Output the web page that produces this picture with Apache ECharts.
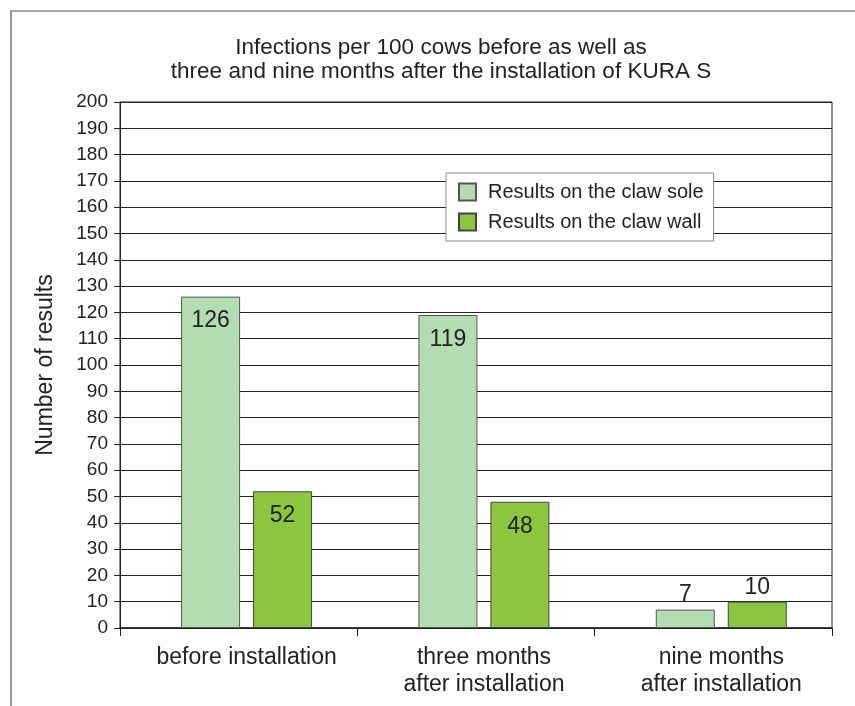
<!DOCTYPE html>
<html>
<head>
<meta charset="utf-8">
<script src="https://cdn.jsdelivr.net/npm/echarts@6/dist/echarts.min.js"></script>
<style>
  html, body { margin: 0; padding: 0; background: #fff; }
  #chart { width: 855px; height: 706px; }
</style>
</head>
<body>
<div id="chart"></div>
<script>
var categories = ['before installation', 'three months\nafter installation', 'nine months\nafter installation'];
var soleValues = [126, 119, 7];
var wallValues = [52, 48, 10];
var seriesNames = ['Results on the claw sole', 'Results on the claw wall'];

var myChart = echarts.init(document.getElementById('chart'));
var font = 'Liberation Sans, Arial, sans-serif';

// small bars get their label above, tall ones inside
function withLabels(values) {
    return values.map(function (v) {
        return {
            value: v,
            label: { position: v < 20 ? 'top' : 'insideTop', distance: v < 20 ? 3 : 13 }
        };
    });
}

var option = {
    animation: false,
    backgroundColor: '#fff',
    textStyle: { fontFamily: font },
    title: {
        text: 'Infections per 100 cows before as well as\nthree and nine months after the installation of KURA S',
        left: 436,
        textAlign: 'center',
        top: 31,
        textStyle: { fontFamily: font, fontSize: 22.5, fontWeight: 'normal', color: '#222', lineHeight: 24 }
    },
    legend: {
        data: seriesNames,
        orient: 'vertical',
        left: 446,
        top: 173,
        padding: [9, 10, 9, 12],
        itemGap: 10,
        itemWidth: 17,
        itemHeight: 17,
        icon: 'rect',
        backgroundColor: '#fff',
        borderColor: '#888',
        borderWidth: 1,
        textStyle: { fontFamily: font, fontSize: 20, color: '#222', padding: [0, 0, 0, 7] }
    },
    grid: {
        left: 120, right: 23, top: 102, bottom: 78,
        show: true, borderColor: '#222', borderWidth: 1
    },
    xAxis: {
        type: 'category',
        data: categories,
        axisLine: { lineStyle: { color: '#222', width: 1.5 } },
        axisTick: { show: true, length: 8, lineStyle: { color: '#222' } },
        axisLabel: {
            fontFamily: font, fontSize: 23, color: '#222', margin: 16, lineHeight: 27,
            padding: [0, 0, 0, 16]
        }
    },
    yAxis: {
        type: 'value',
        min: 0, max: 200, interval: 10,
        name: 'Number of results',
        nameLocation: 'middle',
        nameGap: 63,
        nameTextStyle: { fontFamily: font, fontSize: 23, color: '#222' },
        axisLine: { show: true, lineStyle: { color: '#222' } },
        axisTick: { show: true, length: 6, lineStyle: { color: '#222' } },
        axisLabel: { fontFamily: font, fontSize: 19, color: '#222', margin: 12 },
        splitLine: { lineStyle: { color: '#222', width: 1 } }
    },
    series: [
        {
            // empty spacer so the bar pairs sit a little right of the band centre
            name: 'spacer',
            type: 'bar',
            barWidth: 13,
            data: [],
            silent: true
        },
        {
            name: seriesNames[0],
            type: 'bar',
            barWidth: 59,
            barGap: '22%',
            data: withLabels(soleValues),
            itemStyle: { color: '#b4dcb1', borderColor: '#555', borderWidth: 1 },
            label: { show: true, fontFamily: font, fontSize: 23, color: '#222' }
        },
        {
            name: seriesNames[1],
            type: 'bar',
            barWidth: 59,
            barGap: '22%',
            data: withLabels(wallValues),
            itemStyle: { color: '#8cc63f', borderColor: '#444', borderWidth: 1 },
            label: { show: true, fontFamily: font, fontSize: 23, color: '#222' }
        }
    ],
    graphic: [
        {
            type: 'polyline',
            silent: true,
            shape: { points: [[11, 720], [11, 11], [870, 11]] },
            style: { stroke: '#555', lineWidth: 1.2, fill: null }
        }
    ]
};
myChart.setOption(option);
</script>
</body>
</html>
